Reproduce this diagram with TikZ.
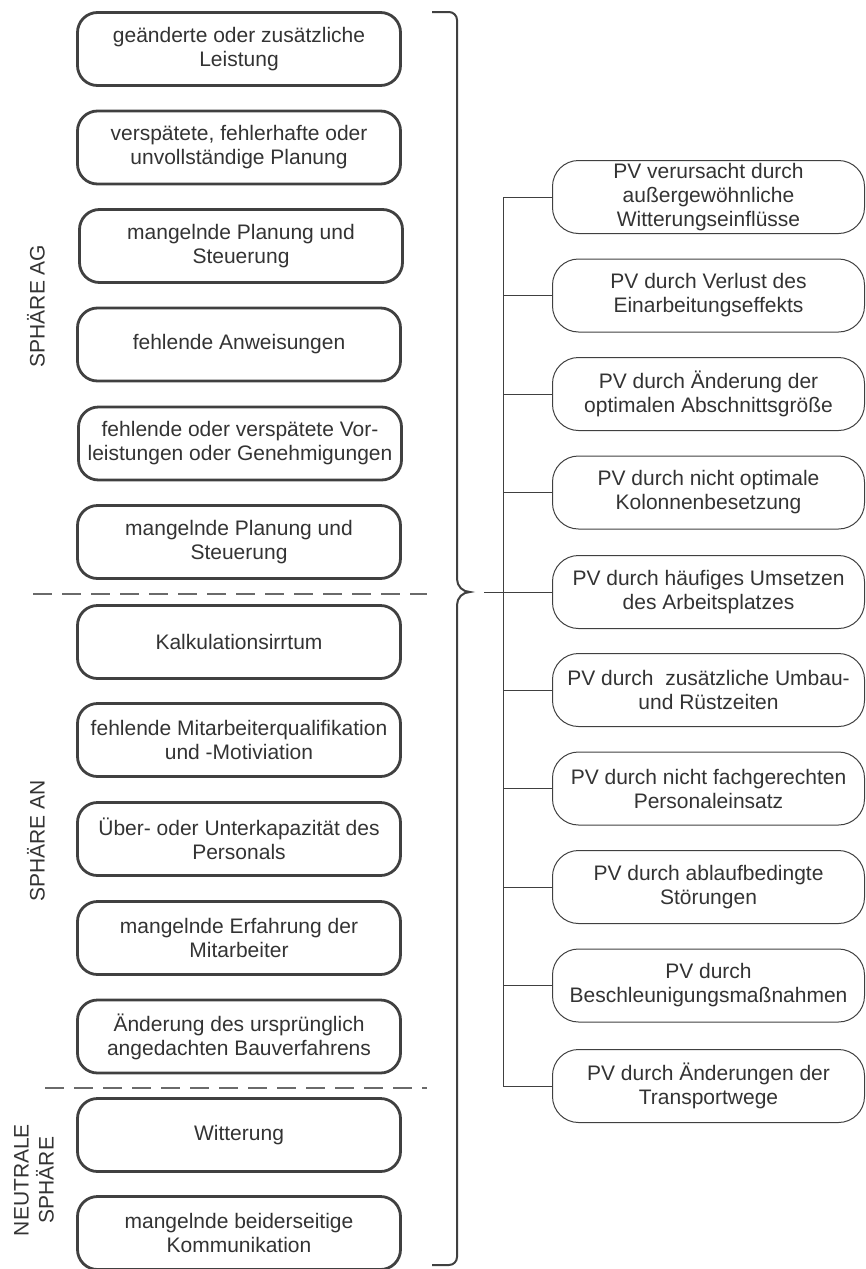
\documentclass[tikz,border=0pt]{standalone}
\usepackage{fontspec}
\setmainfont{Liberation Sans}
\usetikzlibrary{positioning, calc}
\definecolor{boxgray}{HTML}{404040}
\definecolor{txtgray}{HTML}{333333}
\definecolor{dashgray}{HTML}{6A6A6A}

\begin{document}
\begin{tikzpicture}[x=1pt, y=-1pt,
    cause/.style={draw=boxgray, line width=2.8pt, rounded corners=20pt,
      minimum width=323pt, minimum height=73pt, inner sep=0pt,
      align=center, text=txtgray, font=\fontsize{21}{24}\selectfont},
    effect/.style={draw=boxgray, line width=1pt, rounded corners=26pt,
      minimum width=312pt, minimum height=73pt, inner sep=0pt,
      align=center, text=txtgray, font=\fontsize{21}{24}\selectfont},
    sphere/.style={rotate=90, text=txtgray, align=center,
      font=\fontsize{21}{25}\selectfont},
    link/.style={draw=boxgray, line width=1pt},
    border/.style={draw=dashgray, line width=1.5pt, dash pattern=on 19pt off 10pt}]

  \useasboundingbox (0,0) rectangle (866,1269);

  % --- Causes (left column) ---
  \node[cause] (l1)  at (239, 49)   {geänderte oder zusätzliche\\Leistung};
  \node[cause] (l2)  at (239, 147.5) {verspätete, fehlerhafte oder\\unvollständige Planung};
  \node[cause] (l3)  at (241, 246)  {mangelnde Planung und\\Steuerung};
  \node[cause] (l4)  at (239, 344.5) {fehlende Anweisungen};
  \node[cause] (l5)  at (240, 443.5) {fehlende oder verspätete Vor-\\leistungen oder Genehmigungen};
  \node[cause] (l6)  at (239, 542)  {mangelnde Planung und\\Steuerung};
  \node[cause] (l7)  at (239, 642)  {Kalkulationsirrtum};
  \node[cause] (l8)  at (239, 740)  {fehlende Mitarbeiterqualifikation\\und -Motiviation};
  \node[cause] (l9)  at (239, 839)  {Über- oder Unterkapazität des\\Personals};
  \node[cause] (l10) at (239, 938)  {mangelnde Erfahrung der\\Mitarbeiter};
  \node[cause] (l11) at (239, 1036.5) {Änderung des ursprünglich\\angedachten Bauverfahrens};
  \node[cause] (l12) at (239, 1135) {Witterung};
  \node[cause] (l13) at (239, 1233) {mangelnde beiderseitige\\Kommunikation};

  % --- Spheres (rotated labels and dashed borders) ---
  \node[sphere] (ag) at (36, 306)  {SPHÄRE AG};
  \node[sphere] (an) at (36, 841)  {SPHÄRE AN};
  \node[sphere] (ne) at (34, 1180) {NEUTRALE\\SPHÄRE};

  \draw[border, dash phase=25pt] (29, 594) -- (427, 594);
  \draw[border] (45, 1088) -- (427, 1088);

  % --- Brace over all causes ---
  \draw[boxgray, line width=2pt]
    (432,12) -- (449,12) to[out=0,in=90] (457,20) -- (457,579)
    to[out=-90,in=180] (470,592) to[out=180,in=90] (457,605)
    -- (457,1257) to[out=-90,in=0] (449,1265) -- (432,1265);

  % --- Effects (right column) ---
  \node[effect] (r1)  at (708.5, 197)   {PV verursacht durch\\außergewöhnliche\\Witterungseinflüsse};
  \node[effect] (r2)  at (708.5, 295.5) {PV durch Verlust des\\Einarbeitungseffekts};
  \node[effect] (r3)  at (708.5, 394)   {PV durch Änderung der\\optimalen Abschnittsgröße};
  \node[effect] (r4)  at (708.5, 492.5) {PV durch nicht optimale\\Kolonnenbesetzung};
  \node[effect] (r5)  at (708.5, 592)   {PV durch häufiges Umsetzen\\des Arbeitsplatzes};
  \node[effect] (r6)  at (708.5, 690)   {PV durch\ \ zusätzliche Umbau-\\und Rüstzeiten};
  \node[effect] (r7)  at (708.5, 788.5) {PV durch nicht fachgerechten\\Personaleinsatz};
  \node[effect] (r8)  at (708.5, 887)   {PV durch ablaufbedingte\\Störungen};
  \node[effect] (r9)  at (708.5, 985.5) {PV durch\\Beschleunigungsmaßnahmen};
  \node[effect] (r10) at (708.5, 1086)  {PV durch Änderungen der\\Transportwege};

  % --- Connectors ---
  \coordinate (tip) at (484, 592);
  \coordinate (bus) at (503, 197);
  \draw[link] (tip) -- (r5.west);
  \draw[link] (bus) |- (r10.west);
  \foreach \i in {1,...,9} {
    \draw[link] (r\i.west) -- (r\i.west -| bus);
  }

\end{tikzpicture}
\end{document}
